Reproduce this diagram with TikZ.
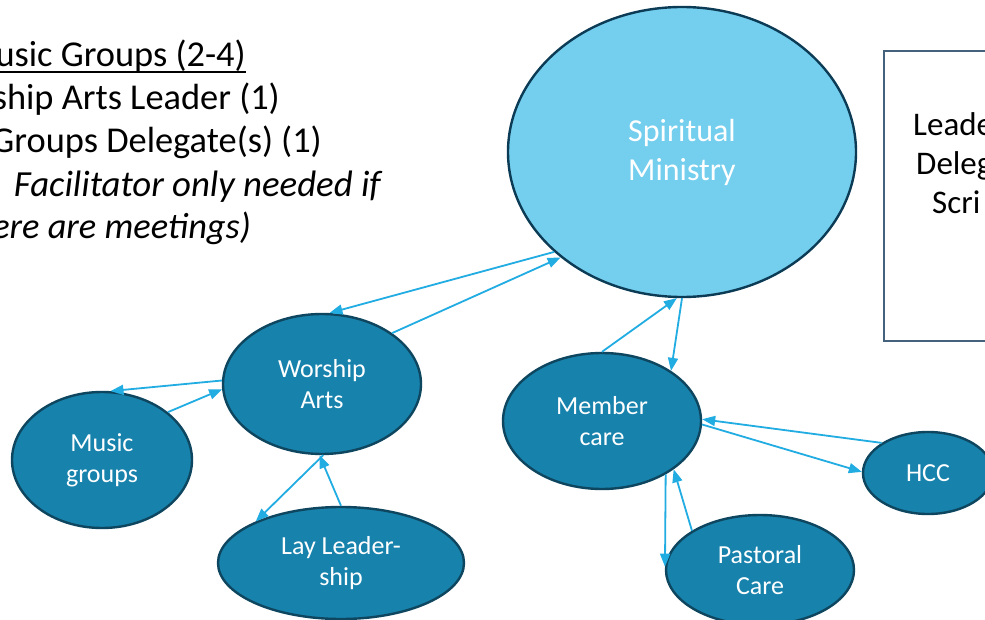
\documentclass[tikz,border=0pt]{standalone}
\usepackage{fontspec}
\setmainfont{Carlito}
\usetikzlibrary{shapes.geometric,arrows.meta}
\definecolor{nodefill}{RGB}{23,130,172}
\definecolor{nodeline}{RGB}{14,70,95}
\definecolor{topfill}{RGB}{116,206,238}
\definecolor{topline}{RGB}{12,60,85}
\definecolor{arrowc}{RGB}{33,172,226}
\definecolor{boxline}{RGB}{68,98,126}
\tikzset{
  unit/.style={ellipse, draw=nodeline, fill=nodefill, line width=2.4pt, inner sep=0pt,
    text=white, align=center, font=\fontsize{26}{31}\selectfont},
  conn/.style={draw=arrowc, line width=1.8pt, -{Triangle[length=13pt,width=10pt]}},
  note/.style={inner sep=0pt, anchor=base east, font=\fontsize{36.4}{44}\selectfont},
  boxtext/.style={inner sep=0pt, anchor=base west, font=\fontsize{33}{39}\selectfont}
}
\begin{document}
\begin{tikzpicture}[x=1pt,y=-1pt]
\useasboundingbox (0,0) rectangle (985,620);
\clip (0,0) rectangle (985,620);
\fill[white] (0,0) rectangle (985,620);

% left text block
\node[note] (t1) at (246,67) {usic Groups (2-4)};
\draw[line width=1.6pt] ([yshift=-5pt]t1.base west) -- ([yshift=-5pt]t1.base east);
\node[note] (t2) at (280,110) {ship Arts Leader (1)};
\node[note] (t3) at (322,153) {Groups Delegate(s) (1)};
\node[note, font=\fontsize{36.8}{44}\selectfont] (t4) at (381,197) {\itshape Facilitator only needed if};
\node[note] (t5) at (251,239) {\itshape ere are meetings)};

% right box
\node[draw=boxline, line width=2pt, minimum width=140pt, minimum height=290pt, anchor=north west, inner sep=0pt] (box) at (883,50) {};
\node[boxtext] (b1) at (913,136) {Leade};
\node[boxtext] (b2) at (916,175) {Deleg};
\node[boxtext] (b3) at (932,214) {Scri};

% nodes
\node[unit, fill=topfill, draw=topline, minimum width=348pt, minimum height=290pt,
  font=\fontsize{32}{39}\selectfont] (S) at (682,152) {Spiritual\\Ministry};
\node[unit, minimum width=198pt, minimum height=140pt] (W) at (322,384) {Worship\\Arts};
\node[unit, minimum width=180pt, minimum height=136pt] (M) at (102,460) {Music\\groups};
\node[unit, minimum width=246pt, minimum height=112pt] (L) at (341,563) {Lay Leader-\\ship};
\node[unit, minimum width=198pt, minimum height=136pt] (C) at (602,421) {Member\\care};
\node[unit, minimum width=130pt, minimum height=82pt] (H) at (928,473) {HCC};
\node[unit, minimum width=188pt, minimum height=110pt] (P) at (760,570) {Pastoral\\Care};

% connectors
\draw[conn] (S.218) -- (W.84);
\draw[conn] (W.36) -- (S.221);
\draw[conn] (W.178) -- (M.83);
\draw[conn] (M.36) -- (W.183);
\draw[conn] (W.271) -- (L.154);
\draw[conn] (L.90) -- (W.268);
\draw[conn] (C.90) -- (S.268);
\draw[conn] (S.270) -- (C.36);
\draw[conn] (H.147) -- (C.1);
\draw[conn] (C.358) -- (H.179);
\draw[conn] (C.320) -- (P.178);
\draw[conn] (P.150) -- (C.326);
\end{tikzpicture}
\end{document}
